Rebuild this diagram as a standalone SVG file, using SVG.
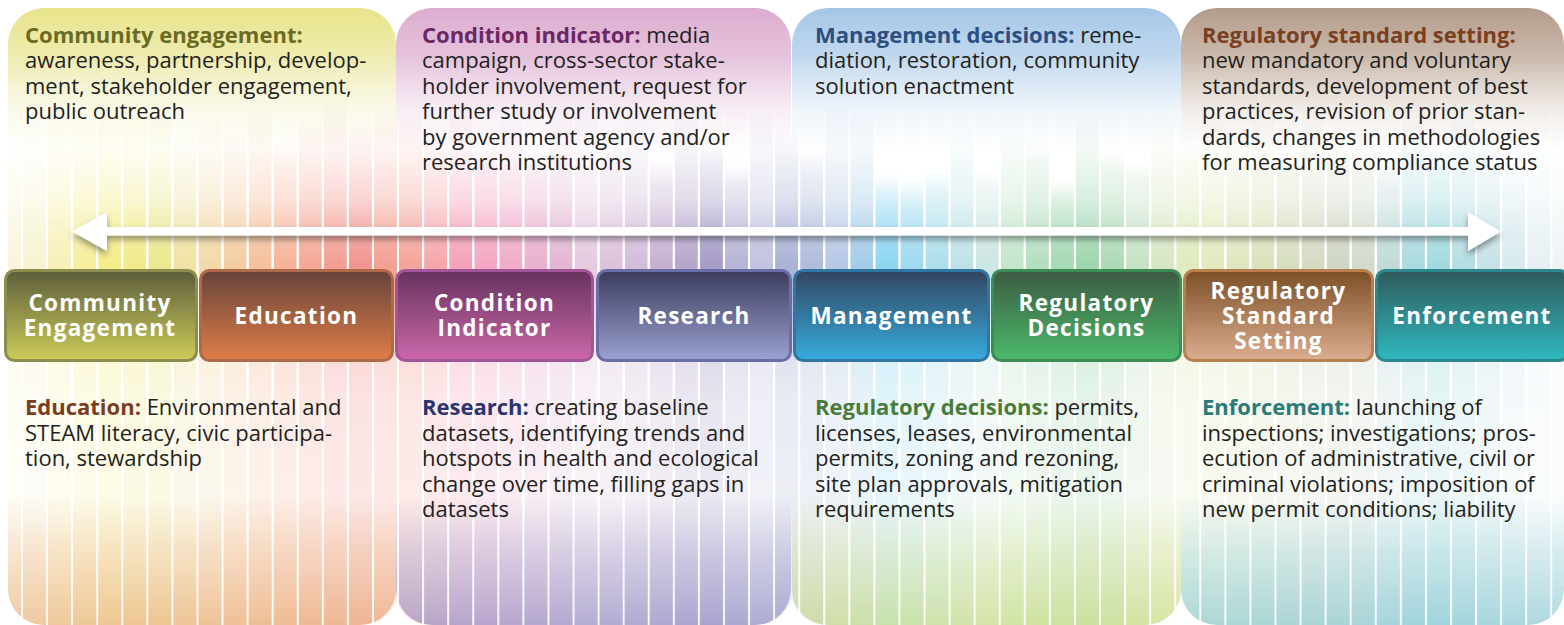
<svg xmlns="http://www.w3.org/2000/svg" width="1564" height="625" viewBox="0 0 1564 625">
<style>
.t{font-family:"Open Sans","Noto Sans","DejaVu Sans",sans-serif;font-size:22px;fill:#231f20}
.b{font-weight:700}
.bx{font-family:"Open Sans","Noto Sans","DejaVu Sans",sans-serif;font-weight:700;font-size:22.5px;letter-spacing:1.3px;fill:#ffffff;text-anchor:middle}
.c{width:23px;height:660px}
.box{stroke-width:3}
</style>
<defs>
<linearGradient id="p1" gradientUnits="userSpaceOnUse" x1="0" y1="8" x2="0" y2="625">
<stop offset="0" stop-color="#e8e48a" stop-opacity="1"/><stop offset="0.08" stop-color="#eae79c" stop-opacity="0.8"/><stop offset="0.17" stop-color="#eeeab0" stop-opacity="0.25"/><stop offset="0.23" stop-color="#eeeab0" stop-opacity="0"/><stop offset="0.79" stop-color="#efc39a" stop-opacity="0"/><stop offset="0.88" stop-color="#efc39a" stop-opacity="0.5"/><stop offset="1" stop-color="#edbe94" stop-opacity="1"/>
</linearGradient>
<linearGradient id="p2" gradientUnits="userSpaceOnUse" x1="0" y1="8" x2="0" y2="625">
<stop offset="0" stop-color="#dcaccf" stop-opacity="1"/><stop offset="0.08" stop-color="#dfb4d4" stop-opacity="0.8"/><stop offset="0.17" stop-color="#e4c0dc" stop-opacity="0.25"/><stop offset="0.23" stop-color="#e4c0dc" stop-opacity="0"/><stop offset="0.79" stop-color="#aeaad2" stop-opacity="0"/><stop offset="0.88" stop-color="#aeaad2" stop-opacity="0.5"/><stop offset="1" stop-color="#a9a6d0" stop-opacity="1"/>
</linearGradient>
<linearGradient id="p3" gradientUnits="userSpaceOnUse" x1="0" y1="8" x2="0" y2="625">
<stop offset="0" stop-color="#a4c6e6" stop-opacity="1"/><stop offset="0.08" stop-color="#b2cfeb" stop-opacity="0.8"/><stop offset="0.17" stop-color="#c4dbf0" stop-opacity="0.25"/><stop offset="0.23" stop-color="#c4dbf0" stop-opacity="0"/><stop offset="0.79" stop-color="#d9e6a2" stop-opacity="0"/><stop offset="0.88" stop-color="#d9e6a2" stop-opacity="0.5"/><stop offset="1" stop-color="#d6e49a" stop-opacity="1"/>
</linearGradient>
<linearGradient id="p4" gradientUnits="userSpaceOnUse" x1="0" y1="8" x2="0" y2="625">
<stop offset="0" stop-color="#b39b8b" stop-opacity="1"/><stop offset="0.08" stop-color="#bda897" stop-opacity="0.8"/><stop offset="0.17" stop-color="#cdbcae" stop-opacity="0.25"/><stop offset="0.23" stop-color="#cdbcae" stop-opacity="0"/><stop offset="0.79" stop-color="#a6d6de" stop-opacity="0"/><stop offset="0.88" stop-color="#a6d6de" stop-opacity="0.5"/><stop offset="1" stop-color="#a0d3dc" stop-opacity="1"/>
</linearGradient>
<linearGradient id="fadeCol" gradientUnits="userSpaceOnUse" x1="0" y1="0" x2="0" y2="625">
<stop offset="0.144" stop-color="#000"/><stop offset="0.24" stop-color="#1f1f1f"/><stop offset="0.32" stop-color="#666"/><stop offset="0.376" stop-color="#ccc"/><stop offset="0.424" stop-color="#fff"/><stop offset="0.48" stop-color="#e6e6e6"/><stop offset="0.58" stop-color="#5a5a5a"/><stop offset="0.64" stop-color="#444"/><stop offset="0.8" stop-color="#383838"/><stop offset="1" stop-color="#333"/>
</linearGradient>
<linearGradient id="fadeLine" gradientUnits="userSpaceOnUse" x1="0" y1="0" x2="0" y2="625">
<stop offset="0.15" stop-color="#000"/><stop offset="0.28" stop-color="#ccc"/><stop offset="1" stop-color="#e6e6e6"/>
</linearGradient>
<mask id="colMask" maskUnits="userSpaceOnUse" x="0" y="0" width="1564" height="625">
<rect x="0" y="0" width="1564" height="625" fill="url(#fadeCol)"/>
</mask>
<mask id="lineMask" maskUnits="userSpaceOnUse" x="0" y="0" width="1564" height="625">
<rect x="0" y="0" width="1564" height="625" fill="url(#fadeLine)"/>
</mask>
<pattern id="linePat" patternUnits="userSpaceOnUse" x="21" y="0" width="25.07" height="625">
<rect x="0" y="0" width="2" height="625" fill="#ffffff"/>
</pattern>
<clipPath id="panelsClip">
<rect x="8" y="8" width="390" height="617" rx="36"/>
<rect x="394" y="8" width="399" height="617" rx="36"/>
<rect x="790" y="8" width="393" height="617" rx="36"/>
<rect x="1179" y="8" width="385" height="617" rx="36"/>
</clipPath>
<filter id="vblur" filterUnits="userSpaceOnUse" x="-10" y="0" width="1590" height="700">
<feGaussianBlur stdDeviation="0 9"/>
</filter>
<filter id="sh" x="-5%" y="-50%" width="110%" height="220%">
<feDropShadow dx="0" dy="4" stdDeviation="3" flood-color="#000" flood-opacity="0.4"/>
</filter>
<linearGradient id="g1" x1="0" y1="0" x2="0" y2="1"><stop offset="0" stop-color="#5d5d3c"/><stop offset="1" stop-color="#cccc58"/></linearGradient>
<linearGradient id="g2" x1="0" y1="0" x2="0" y2="1"><stop offset="0" stop-color="#66433a"/><stop offset="1" stop-color="#e07e48"/></linearGradient>
<linearGradient id="g3" x1="0" y1="0" x2="0" y2="1"><stop offset="0" stop-color="#66325e"/><stop offset="1" stop-color="#cc68aa"/></linearGradient>
<linearGradient id="g4" x1="0" y1="0" x2="0" y2="1"><stop offset="0" stop-color="#3a3b5c"/><stop offset="1" stop-color="#9ca2d2"/></linearGradient>
<linearGradient id="g5" x1="0" y1="0" x2="0" y2="1"><stop offset="0" stop-color="#33445f"/><stop offset="1" stop-color="#36acdf"/></linearGradient>
<linearGradient id="g6" x1="0" y1="0" x2="0" y2="1"><stop offset="0" stop-color="#3c5a42"/><stop offset="1" stop-color="#4bbb6b"/></linearGradient>
<linearGradient id="g7" x1="0" y1="0" x2="0" y2="1"><stop offset="0" stop-color="#7b4f26"/><stop offset="1" stop-color="#dcae90"/></linearGradient>
<linearGradient id="g8" x1="0" y1="0" x2="0" y2="1"><stop offset="0" stop-color="#2f5a5a"/><stop offset="1" stop-color="#30b9c1"/></linearGradient>
</defs>

<rect x="0" y="0" width="1564" height="625" fill="#ffffff"/>

<g id="panels">
<rect x="8" y="8" width="388" height="617" rx="36" fill="url(#p1)"/>
<rect x="396" y="8" width="395" height="617" rx="36" fill="url(#p2)"/>
<rect x="792" y="8" width="389" height="617" rx="36" fill="url(#p3)"/>
<rect x="1181" y="8" width="383" height="617" rx="36" fill="url(#p4)"/>
</g>

<g id="stripes" clip-path="url(#panelsClip)">
<g mask="url(#colMask)">
<g filter="url(#vblur)">
<rect class="c" x="-2" y="150" fill="#f9f5dc"/>
<rect class="c" x="23" y="130" fill="#f8f3d0"/>
<rect class="c" x="48.1" y="120" fill="#f8f0b8"/>
<rect class="c" x="73.1" y="105" fill="#f6ee9e"/>
<rect class="c" x="98.2" y="100" fill="#f5ec8a"/>
<rect class="c" x="123.3" y="110" fill="#f2ea8a"/>
<rect class="c" x="148.4" y="105" fill="#ebe88e"/>
<rect class="c" x="173.4" y="140" fill="#f0e2a4"/>
<rect class="c" x="198.5" y="120" fill="#f3d8a8"/>
<rect class="c" x="223.6" y="135" fill="#f4cca2"/>
<rect class="c" x="248.6" y="110" fill="#f5c09c"/>
<rect class="c" x="273.7" y="150" fill="#f6b49a"/>
<rect class="c" x="298.8" y="125" fill="#f5a896"/>
<rect class="c" x="323.8" y="100" fill="#f49e94"/>
<rect class="c" x="348.9" y="130" fill="#f39490"/>
<rect class="c" x="374" y="110" fill="#f4a094"/>
<rect class="c" x="399" y="120" fill="#f5a49a"/>
<rect class="c" x="424.1" y="140" fill="#f6a6aa"/>
<rect class="c" x="449.2" y="105" fill="#f5a2b8"/>
<rect class="c" x="474.3" y="150" fill="#f4a6c2"/>
<rect class="c" x="499.3" y="125" fill="#f0acca"/>
<rect class="c" x="524.4" y="160" fill="#e8b0ce"/>
<rect class="c" x="549.5" y="110" fill="#e2b6d4"/>
<rect class="c" x="574.5" y="100" fill="#e6cae0"/>
<rect class="c" x="599.6" y="140" fill="#ddc2dc"/>
<rect class="c" x="624.7" y="130" fill="#d4bcda"/>
<rect class="c" x="649.8" y="170" fill="#c6b0d2"/>
<rect class="c" x="674.8" y="120" fill="#b6a6cc"/>
<rect class="c" x="699.9" y="150" fill="#a69cc8"/>
<rect class="c" x="725" y="175" fill="#b6b4d8"/>
<rect class="c" x="750" y="110" fill="#c0c2e0"/>
<rect class="c" x="775.1" y="140" fill="#aab2d8"/>
<rect class="c" x="800.2" y="158" fill="#b0bcdc"/>
<rect class="c" x="825.2" y="100" fill="#b6c8e4"/>
<rect class="c" x="850.3" y="115" fill="#a4cce8"/>
<rect class="c" x="875.4" y="185" fill="#8ed6f0"/>
<rect class="c" x="900.5" y="190" fill="#9edaf0"/>
<rect class="c" x="925.5" y="180" fill="#aedeec"/>
<rect class="c" x="950.6" y="140" fill="#bee2e8"/>
<rect class="c" x="975.7" y="180" fill="#cce6e2"/>
<rect class="c" x="1000.7" y="130" fill="#c4e6cc"/>
<rect class="c" x="1025.8" y="150" fill="#b4dec0"/>
<rect class="c" x="1050.9" y="190" fill="#a6dab6"/>
<rect class="c" x="1075.9" y="120" fill="#9ed6ae"/>
<rect class="c" x="1101" y="160" fill="#aedab6"/>
<rect class="c" x="1126.1" y="170" fill="#c6e2c4"/>
<rect class="c" x="1151.2" y="130" fill="#d8e6c4"/>
<rect class="c" x="1176.2" y="150" fill="#dfebbf"/>
<rect class="c" x="1201.3" y="120" fill="#e2eabe"/>
<rect class="c" x="1226.4" y="135" fill="#dee6be"/>
<rect class="c" x="1251.4" y="110" fill="#dae2bc"/>
<rect class="c" x="1276.5" y="160" fill="#d6dec0"/>
<rect class="c" x="1301.6" y="125" fill="#d4dac2"/>
<rect class="c" x="1326.6" y="150" fill="#d0d6c4"/>
<rect class="c" x="1351.7" y="140" fill="#d0dacb"/>
<rect class="c" x="1376.8" y="170" fill="#c0dada"/>
<rect class="c" x="1401.9" y="130" fill="#aadadf"/>
<rect class="c" x="1426.9" y="160" fill="#a2dadf"/>
<rect class="c" x="1452" y="120" fill="#b4dee4"/>
<rect class="c" x="1477.1" y="145" fill="#c6e2e8"/>
<rect class="c" x="1502.1" y="170" fill="#d8eaef"/>
<rect class="c" x="1527.2" y="150" fill="#e6f0f4"/>
<rect class="c" x="1552.3" y="160" fill="#eef4f6"/>
</g>
</g>
<rect x="0" y="0" width="1564" height="625" fill="url(#linePat)" mask="url(#lineMask)"/>
</g>

<g id="connectors">
<path id="double-arrow" d="M72,231.5 L107,212 L107,227 L1468,227 L1468,212 L1501,231.5 L1468,251 L1468,235.5 L107,235.5 L107,251 Z" fill="#ffffff" filter="url(#sh)"/>
</g>

<g id="node-community-engagement">
<rect class="box" x="5.5" y="270.5" width="191" height="90" rx="9" fill="url(#g1)" stroke="#8d8d4e"/>
<text class="bx" x="100" y="311">Community</text>
<text class="bx" x="100" y="336">Engagement</text>
</g>
<g id="node-education">
<rect class="box" x="200.5" y="270.5" width="192" height="90" rx="9" fill="url(#g2)" stroke="#ad6a4a"/>
<text class="bx" x="296.5" y="324">Education</text>
</g>
<g id="node-condition-indicator">
<rect class="box" x="396.5" y="270.5" width="196" height="90" rx="9" fill="url(#g3)" stroke="#a3559a"/>
<text class="bx" x="494.5" y="311">Condition</text>
<text class="bx" x="494.5" y="336">Indicator</text>
</g>
<g id="node-research">
<rect class="box" x="597.5" y="270.5" width="193" height="90" rx="9" fill="url(#g4)" stroke="#6a6ea6"/>
<text class="bx" x="694" y="324">Research</text>
</g>
<g id="node-management">
<rect class="box" x="794.5" y="270.5" width="194" height="90" rx="9" fill="url(#g5)" stroke="#2f76a2"/>
<text class="bx" x="891.5" y="324">Management</text>
</g>
<g id="node-regulatory-decisions">
<rect class="box" x="992.5" y="270.5" width="188" height="90" rx="9" fill="url(#g6)" stroke="#3c8c56"/>
<text class="bx" x="1086.5" y="311">Regulatory</text>
<text class="bx" x="1086.5" y="336">Decisions</text>
</g>
<g id="node-regulatory-standard-setting">
<rect class="box" x="1184.5" y="270.5" width="188" height="90" rx="9" fill="url(#g7)" stroke="#b8804f"/>
<text class="bx" x="1278.5" y="298.5">Regulatory</text>
<text class="bx" x="1278.5" y="323.5">Standard</text>
<text class="bx" x="1278.5" y="348.5">Setting</text>
</g>
<g id="node-enforcement">
<rect class="box" x="1376.5" y="270.5" width="192" height="90" rx="9" fill="url(#g8)" stroke="#2c888c"/>
<text class="bx" x="1472" y="324">Enforcement</text>
</g>

<g id="text-community-engagement">
<text class="t" x="25" y="42.5"><tspan class="b" fill="#6b6a24">Community engagement:</tspan></text>
<text class="t" x="25" y="68">awareness, partnership, develop-</text>
<text class="t" x="25" y="93.5">ment, stakeholder engagement,</text>
<text class="t" x="25" y="119">public outreach</text>
</g>
<g id="text-condition-indicator">
<text class="t" x="422" y="42.5"><tspan class="b" fill="#6b2762">Condition indicator:</tspan> media</text>
<text class="t" x="422" y="68">campaign, cross-sector stake-</text>
<text class="t" x="422" y="93.5">holder involvement, request for</text>
<text class="t" x="422" y="119">further study or involvement</text>
<text class="t" x="422" y="144.5">by government agency and/or</text>
<text class="t" x="422" y="170">research institutions</text>
</g>
<g id="text-management-decisions">
<text class="t" x="815" y="42.5"><tspan class="b" fill="#2d4f80">Management decisions:</tspan> reme-</text>
<text class="t" x="815" y="68">diation, restoration, community</text>
<text class="t" x="815" y="93.5">solution enactment</text>
</g>
<g id="text-regulatory-standard-setting">
<text class="t" x="1202" y="42.5"><tspan class="b" fill="#7a3f1f">Regulatory standard setting:</tspan></text>
<text class="t" x="1202" y="68">new mandatory and voluntary</text>
<text class="t" x="1202" y="93.5">standards, development of best</text>
<text class="t" x="1202" y="119">practices, revision of prior stan-</text>
<text class="t" x="1202" y="144.5">dards, changes in methodologies</text>
<text class="t" x="1202" y="170">for measuring compliance status</text>
</g>
<g id="text-education">
<text class="t" x="25" y="415"><tspan class="b" fill="#7a3d22">Education:</tspan> Environmental and</text>
<text class="t" x="25" y="440.5">STEAM literacy, civic participa-</text>
<text class="t" x="25" y="466">tion, stewardship</text>
</g>
<g id="text-research">
<text class="t" x="422" y="415"><tspan class="b" fill="#2c346f">Research:</tspan> creating baseline</text>
<text class="t" x="422" y="440.5">datasets, identifying trends and</text>
<text class="t" x="422" y="466">hotspots in health and ecological</text>
<text class="t" x="422" y="491.5">change over time, filling gaps in</text>
<text class="t" x="422" y="517">datasets</text>
</g>
<g id="text-regulatory-decisions">
<text class="t" x="815" y="415"><tspan class="b" fill="#4a7b3b">Regulatory decisions:</tspan> permits,</text>
<text class="t" x="815" y="440.5">licenses, leases, environmental</text>
<text class="t" x="815" y="466">permits, zoning and rezoning,</text>
<text class="t" x="815" y="491.5">site plan approvals, mitigation</text>
<text class="t" x="815" y="517">requirements</text>
</g>
<g id="text-enforcement">
<text class="t" x="1202" y="415"><tspan class="b" fill="#2a7a77">Enforcement:</tspan> launching of</text>
<text class="t" x="1202" y="440.5">inspections; investigations; pros-</text>
<text class="t" x="1202" y="466">ecution of administrative, civil or</text>
<text class="t" x="1202" y="491.5">criminal violations; imposition of</text>
<text class="t" x="1202" y="517">new permit conditions; liability</text>
</g>
</svg>
